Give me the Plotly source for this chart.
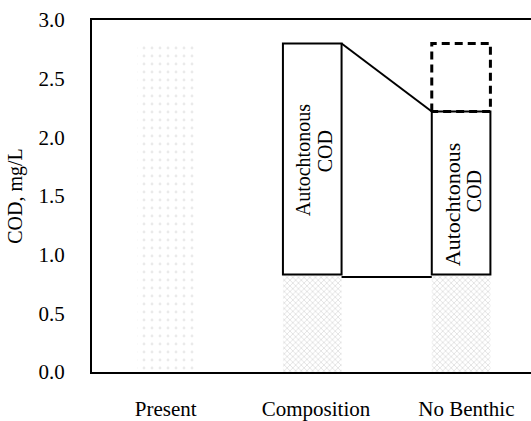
import plotly.graph_objects as go

# ---- data ----
categories = ["Present", "Composition", "No Benthic"]
cat_pos = [0, 1, 2]
present_total = [2.80]                 # faint stippled bar, Present
background_cod = [0.83, 0.83]          # stippled lower segment: Composition, No Benthic
autochthonous_top = [2.80, 2.22]       # top of the "Autochtonous COD" boxes
removed_top = 2.80                     # top of dashed box above No Benthic
connector_bottom = 0.81                # lower connecting line between boxes
y_ticks = [0.0, 0.5, 1.0, 1.5, 2.0, 2.5, 3.0]

# ---- styles ----
W = 0.39
OFF = [-0.19, -0.22, -0.23]
FONT = "Liberation Serif, Times New Roman, serif"

fig = go.Figure()

# Present: faint stipple
fig.add_trace(go.Bar(
    x=[cat_pos[0]], y=present_total, base=0, width=W, offset=OFF[0],
    marker=dict(color="white", line=dict(width=0),
                pattern=dict(shape=".", fgcolor="#d6d6d6", bgcolor="white",
                             size=8, solidity=0.1)),
    showlegend=False, hoverinfo="skip"))

# Stippled lower segments
fig.add_trace(go.Bar(
    x=cat_pos[1:], y=background_cod, base=0, width=W, offset=OFF[1:],
    marker=dict(color="white", line=dict(width=0),
                pattern=dict(shape="x", fgcolor="#9c9c9c", bgcolor="white",
                             size=4, solidity=0.25)),
    showlegend=False, hoverinfo="skip"))

# Autochtonous COD boxes
fig.add_trace(go.Bar(
    x=cat_pos[1:], y=[t - b for t, b in zip(autochthonous_top, background_cod)],
    base=background_cod, width=W, offset=OFF[1:],
    marker=dict(color="white", line=dict(color="black", width=2)),
    showlegend=False, hoverinfo="skip"))

comp_right = cat_pos[1] + OFF[1] + W
nb_left = cat_pos[2] + OFF[2]
nb_right = nb_left + W

# connector lines
fig.add_trace(go.Scatter(
    x=[comp_right, nb_left], y=[autochthonous_top[0], autochthonous_top[1]],
    mode="lines", line=dict(color="black", width=2),
    showlegend=False, hoverinfo="skip"))
fig.add_trace(go.Scatter(
    x=[comp_right, nb_left], y=[connector_bottom, connector_bottom],
    mode="lines", line=dict(color="black", width=2),
    showlegend=False, hoverinfo="skip"))

# dashed box (removed benthic contribution)
fig.add_trace(go.Scatter(
    x=[nb_left, nb_left, nb_right, nb_right, nb_left],
    y=[autochthonous_top[1], removed_top, removed_top, autochthonous_top[1], autochthonous_top[1]],
    mode="lines", line=dict(color="black", width=3, dash="8px,5px"),
    showlegend=False, hoverinfo="skip"))

# labels inside boxes
ann = []
for i, (ai, fs_a) in enumerate([(1, 20), (2, 22)]):
    x_c = cat_pos[ai] + OFF[ai] + W / 2
    y_c = (background_cod[i] + autochthonous_top[i]) / 2
    yshift_a = [-1, -12][i]
    yshift_c = [8, 2][i]
    ann.append(dict(x=x_c, y=y_c, xref="x", yref="y", text="Autochtonous",
                    textangle=-90, showarrow=False, xshift=-9, yshift=yshift_a,
                    font=dict(family=FONT, size=fs_a, color="black")))
    ann.append(dict(x=x_c, y=y_c, xref="x", yref="y", text="COD",
                    textangle=-90, showarrow=False, xshift=13, yshift=yshift_c,
                    font=dict(family=FONT, size=20, color="black")))

fig.update_layout(
    width=531, height=421,
    margin=dict(l=92, r=0, t=20, b=43),
    plot_bgcolor="white", paper_bgcolor="white",
    barmode="overlay",
    font=dict(family=FONT, size=20, color="black"),
    annotations=ann,
    xaxis=dict(range=[-0.49, 2.43], tickvals=cat_pos, ticktext=categories,
               showline=True, linecolor="black", linewidth=2, mirror=True,
               showgrid=False, zeroline=False, ticks="", ticklabelstandoff=17,
               tickfont=dict(family=FONT, size=21, color="black")),
    yaxis=dict(range=[0, 3.0], tickvals=y_ticks, tickformat=".1f",
               showline=True, linecolor="black", linewidth=2,
               showgrid=False, zeroline=False, ticks="", ticklabelstandoff=21,
               tickfont=dict(family=FONT, size=21, color="black"),
               title=dict(text="COD, mg/L", standoff=11,
                          font=dict(family=FONT, size=20, color="black"))),
)

fig.write_html("out.html")
